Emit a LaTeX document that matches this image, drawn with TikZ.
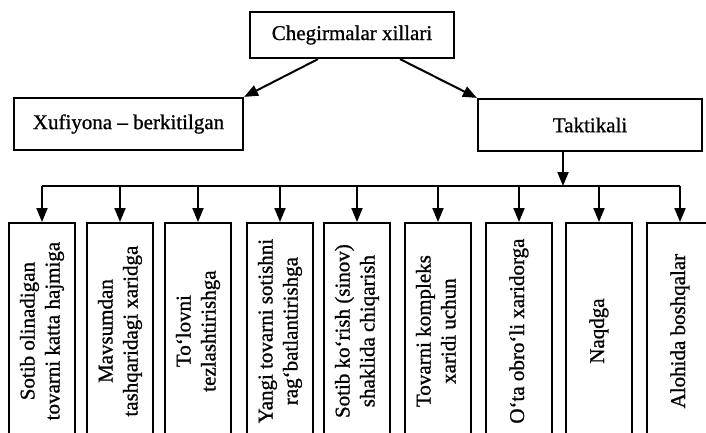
\documentclass[tikz,border=0pt]{standalone}
\usepackage{fontspec}
\setmainfont{Liberation Serif}
\newfontfamily\heavyserif{Liberation Serif}[FakeBold=0.9,Ligatures=TeX]
\usepackage{graphicx}
\usetikzlibrary{arrows.meta}
\newcommand{\vtxt}[1]{\rotatebox{90}{\begin{tabular}{@{}c@{}}#1\end{tabular}}}
\begin{document}
\begin{tikzpicture}[x=1pt,y=-1pt,
  box/.style={draw,line width=2.2pt,inner sep=0pt,font=\heavyserif\fontsize{21}{25}\selectfont},
  vbox/.style={box,minimum width=66pt,minimum height=216pt,anchor=north},
  arr/.style={line width=2pt,-{Triangle[length=14pt,width=11pt]}},
  ln/.style={line width=2pt}]
\useasboundingbox (0,0) rectangle (706,433);
\begin{scope}
\clip (0,0) rectangle (706,433);
\node[box,minimum width=204pt,minimum height=46pt] (top) at (352,35) {Chegirmalar xillari};
\node[box,minimum width=229pt,minimum height=52pt] (xuf) at (128.5,124) {Xufiyona – berkitilgan};
\node[box,minimum width=224pt,minimum height=52pt] (tak) at (590,125) {Taktikali};

\draw[arr] ([xshift=-34pt]top.south) -- (xuf.north east);
\draw[arr] ([xshift=48pt]top.south) -- (tak.north west);

\node[vbox] (b1) at (42,222) {\vtxt{Sotib olinadigan\\tovarni katta hajmiga}};
\node[vbox] (b2) at (120,222) {\vtxt{Mavsumdan\\tashqaridagi xaridga}};
\node[vbox] (b3) at (198,222) {\vtxt{To‘lovni\\tezlashtirishga}};
\node[vbox] (b4) at (280,222) {\vtxt{Yangi tovarni sotishni\\rag‘batlantirishga}};
\node[vbox] (b5) at (357,222) {\vtxt{Sotib ko‘rish (sinov)\\shaklida chiqarish}};
\node[vbox] (b6) at (438,222) {\vtxt{Tovarni kompleks\\xaridi uchun}};
\node[vbox] (b7) at (519,222) {\vtxt{O‘ta obro‘li xaridorga}};
\node[vbox] (b8) at (599,222) {\vtxt{Naqdga}};
\node[vbox] (b9) at (680,222) {\vtxt{Alohida boshqalar}};

\coordinate (busL) at (42,186);
\coordinate (busR) at (680,186);
\coordinate (busT) at (563,186);
\draw[arr] ([xshift=-27pt]tak.south) -- (busT);
\draw[ln] (busL) -- (busR);
\foreach \b in {b1,b2,b3,b4,b5,b6,b7,b8,b9}{
  \draw[arr] (\b.north |- busL) -- (\b.north);
}
\end{scope}
\end{tikzpicture}
\end{document}
